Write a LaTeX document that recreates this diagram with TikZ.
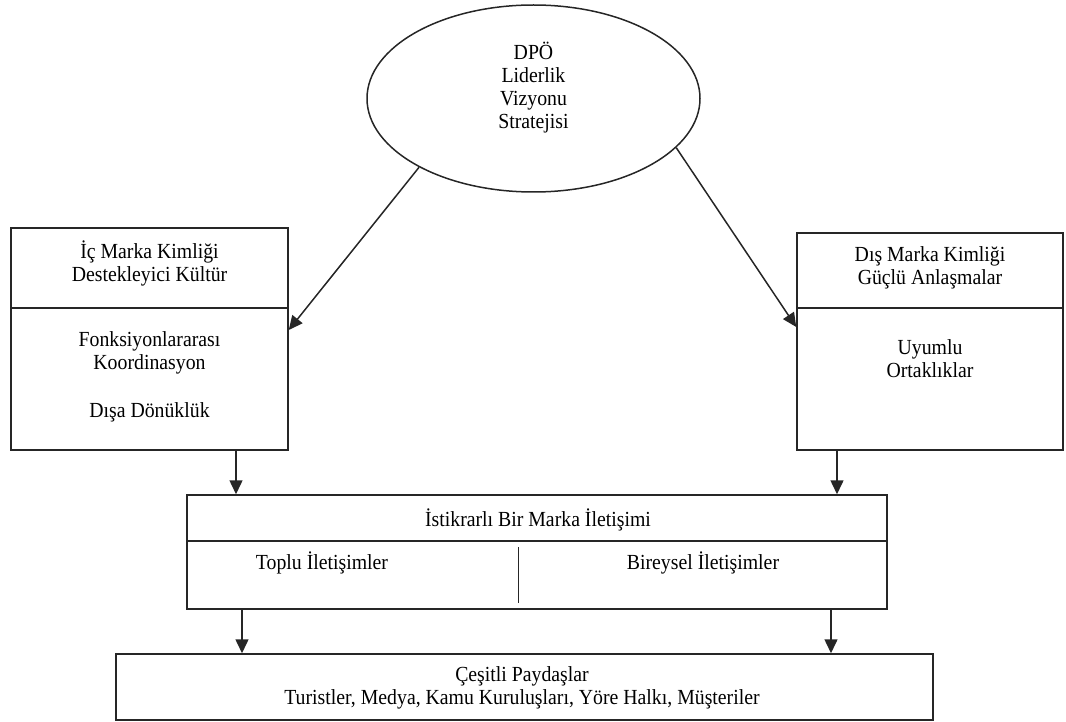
\documentclass[tikz,border=0pt]{standalone}
\usepackage{fontspec}
\setmainfont{Liberation Serif}[FakeStretch=0.92]
\usetikzlibrary{shapes.geometric,arrows.meta,calc}

\begin{document}
\begin{tikzpicture}[x=1pt,y=-1pt,
  ln/.style={draw=black!85,line width=1.5pt},
  box/.style={ln,rectangle,inner sep=0pt},
  txt/.style={align=center,font=\fontsize{21.5}{23}\selectfont,inner sep=0pt},
  arr/.style={ln,-{Triangle[length=14pt,width=13pt]}}]

\useasboundingbox (0,0) rectangle (1066,722);

% leadership ellipse
\node[ln,ellipse,inner sep=0pt,minimum width=333pt,minimum height=187pt] (ell) at (533.5,98.5) {};
\node[txt] (elltxt) at (533.5,88) {DPÖ\\Liderlik\\Vizyonu\\Stratejisi};

% internal brand identity
\node[box,minimum width=277pt,minimum height=80pt] (lTop) at (149.5,268) {};
\node[box,minimum width=277pt,minimum height=142pt] (lBot) at (149.5,379) {};
\node[txt] (lTopTxt) at (149.5,263) {İç Marka Kimliği\\Destekleyici Kültür};
\node[txt] (lBotTxt) at (149.5,353) {Fonksiyonlararası\\Koordinasyon};
\node[txt] (lBotTxt2) at (149.5,412) {Dışa Dönüklük};

% external brand identity
\node[box,minimum width=266pt,minimum height=75pt] (rTop) at (930,270.5) {};
\node[box,minimum width=266pt,minimum height=142pt] (rBot) at (930,379) {};
\node[txt] (rTopTxt) at (930,267.5) {Dış Marka Kimliği\\Güçlü Anlaşmalar};
\node[txt] (rBotTxt) at (930,359) {Uyumlu\\Ortaklıklar};

% consistent brand communication
\node[box,minimum width=700pt,minimum height=46pt] (mTop) at (537,518) {};
\node[box,minimum width=700pt,minimum height=68pt] (mBot) at (537,575) {};
\node[txt] (mTopTxt) at (538,520) {İstikrarlı Bir Marka İletişimi};
\node[txt] (mBotL) at (322,563) {Toplu İletişimler};
\node[txt] (mBotR) at (703,563) {Bireysel İletişimler};
\coordinate (divA) at (518.5,547);
\coordinate (divB) at (518.5,603);
\draw[ln] (divA) -- (divB);

% stakeholders
\node[box,minimum width=817pt,minimum height=66pt] (bot) at (524.5,687) {};
\node[txt] (botTxt) at (522,687.5) {Çeşitli Paydaşlar\\Turistler, Medya, Kamu Kuruluşları, Yöre Halkı, Müşteriler};

% connectors
\draw[arr] (ell.211) -- (lBot.east |- 0,330);
\draw[arr] (ell.341) -- (rBot.west |- 0,327);
\draw[arr] (lBot.south -| 236,0) -- (mTop.north -| 236,0);
\draw[arr] (rBot.south -| 837,0) -- (mTop.north -| 837,0);
\draw[arr] (mBot.south -| 242,0) -- (bot.north -| 242,0);
\draw[arr] (mBot.south -| 831,0) -- (bot.north -| 831,0);
\end{tikzpicture}
\end{document}
